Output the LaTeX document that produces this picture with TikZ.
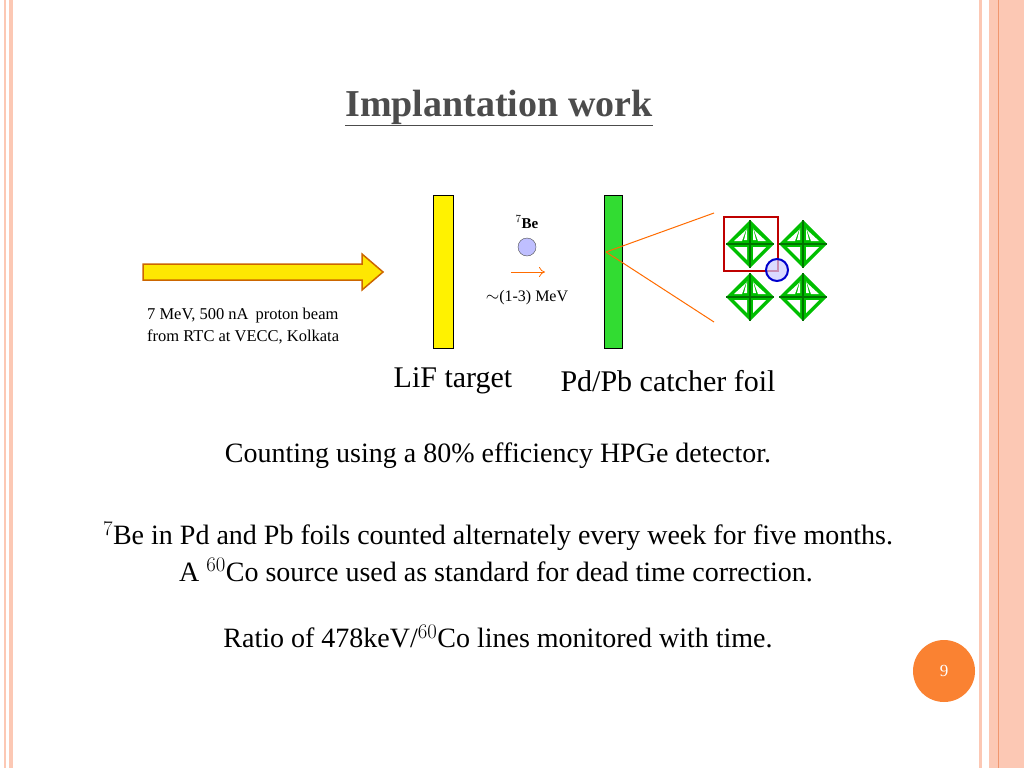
\documentclass[tikz,border=0pt]{standalone}
\usepackage{fontspec}
\setmainfont{Liberation Serif}
\usetikzlibrary{arrows.meta}
\definecolor{salmon}{RGB}{252,200,180}
\definecolor{salmond}{RGB}{240,150,110}
\definecolor{pgorange}{RGB}{250,130,50}
\definecolor{foilgreen}{RGB}{50,220,50}
\begin{document}
\begin{tikzpicture}[x=1pt,y=-1pt,
  txt/.style={inner sep=0pt,font=\fontsize{28}{32}\selectfont},
  small/.style={inner sep=0pt,font=\fontsize{16.5}{22}\selectfont,align=left},
  foil/.style={draw=black,line width=0.8pt},
  ora/.style={draw=orange!85!red,line width=1pt},
  gr/.style={draw=green!65!black,line width=4.5pt,line join=round}]
\useasboundingbox (0,0) rectangle (1024,768);
\fill[white] (0,0) rectangle (1024,768);
% borders
\fill[salmon] (4,0) rectangle (6,768);
\fill[salmon] (9,0) rectangle (13,768);
\fill[salmon] (979,0) rectangle (982,768);
\fill[salmon] (989,0) rectangle (1024,768);
\draw[salmond,line width=0.8pt] (998,0) -- (998,768);
% title
\node[inner sep=0pt,font=\bfseries\fontsize{38}{42}\selectfont,text=black!70] (title) at (499,108) {\underline{Implantation work}};
% beam arrow
\draw[draw=orange!80!black,fill=yellow!90!orange,line width=1.5pt] (143,264) -- (362,264) -- (362,254) -- (383,272) -- (362,290) -- (362,280) -- (143,280) -- cycle;
\node[small,anchor=west] (beam) at (147,326) {7 MeV, 500 nA\, proton beam\\from RTC at VECC, Kolkata};
% foils
\node[foil,fill=yellow,minimum width=20pt,minimum height=153pt,inner sep=0pt] (lif) at (443,272) {};
\node[foil,fill=foilgreen,minimum width=18pt,minimum height=153pt,inner sep=0pt] (pd) at (613,272) {};
\node[inner sep=0pt,font=\fontsize{30}{34}\selectfont] (liflab) at (453,381) {LiF target};
\node[inner sep=0pt,font=\fontsize{30}{34}\selectfont] (pdlab) at (668,381) {Pd/Pb catcher foil};
% Be
\node[inner sep=0pt,font=\bfseries\fontsize{15}{17}\selectfont] (be) at (527,222) {$^{7}$Be};
\node[circle,draw=black!70,fill=blue!25,minimum size=18pt,inner sep=0pt] (atom) at (527,247) {};
\coordinate (a1) at (511,272); \coordinate (a2) at (545,272);
\draw[-{To[length=6pt,width=10pt]},orange!85!red,line width=0.8pt] (a1) -- (a2);
\node[inner sep=0pt,font=\fontsize{16}{18}\selectfont] (mev) at (527,298) {$\sim$(1-3) MeV};
% lattice
\foreach \cx/\cy in {750/244,803/244,750/297,803/297}{
  \fill[green!75!black] (\cx-24,\cy) -- (\cx,\cy-24) -- (\cx+24,\cy) -- (\cx,\cy+24) -- cycle;
  \fill[white] (\cx-6,\cy-4) -- (\cx-3,\cy-16) -- (\cx-3,\cy-4) -- cycle;
  \fill[white] (\cx+6,\cy-4) -- (\cx+3,\cy-16) -- (\cx+3,\cy-4) -- cycle;
  \fill[white] (\cx-16,\cy+3) -- (\cx-3,\cy+3) -- (\cx-3,\cy+16) -- cycle;
  \fill[white] (\cx+16,\cy+3) -- (\cx+3,\cy+3) -- (\cx+3,\cy+16) -- cycle;
  \fill[white] (\cx-16,\cy-3) -- (\cx-8,\cy-3) -- (\cx-4,\cy-14) -- cycle;
  \fill[white] (\cx+16,\cy-3) -- (\cx+8,\cy-3) -- (\cx+4,\cy-14) -- cycle;
  \draw[green!45!black,line width=1.5pt] (\cx,\cy-24) -- (\cx,\cy+24) (\cx-24,\cy) -- (\cx+24,\cy);
}
\coordinate (z1) at (714,213); \coordinate (z2) at (714,322);
\coordinate (pdr) at (606,252);
\draw[ora] (pdr) -- (z1);
\draw[ora] (pdr) -- (z2);
\node[draw=red!75!black,line width=1.8pt,minimum width=54pt,minimum height=54pt,inner sep=0pt] (sq) at (751,244) {};
\node[circle,draw=blue!80!black,fill=blue!20,fill opacity=0.7,draw opacity=1,line width=2pt,minimum size=22pt,inner sep=0pt] (site) at (777,270) {};
% text
\node[txt] (t1) at (498,456) {Counting using a 80\% efficiency HPGe detector.};
\node[txt] (t2) at (498,536) {$^{7}$Be in Pd and Pb foils counted alternately every week for five months.};
\node[txt] (t3) at (496,570) {A $^{60}$Co source used as standard for dead time correction.};
\node[txt] (t4) at (498,637) {Ratio of 478keV/$^{60}$Co lines monitored with time.};
% page number
\node[circle,fill=pgorange,minimum size=62pt,inner sep=0pt,text=white,font=\fontsize{17}{19}\selectfont] (pg) at (944,671) {9};
\end{tikzpicture}
\end{document}
